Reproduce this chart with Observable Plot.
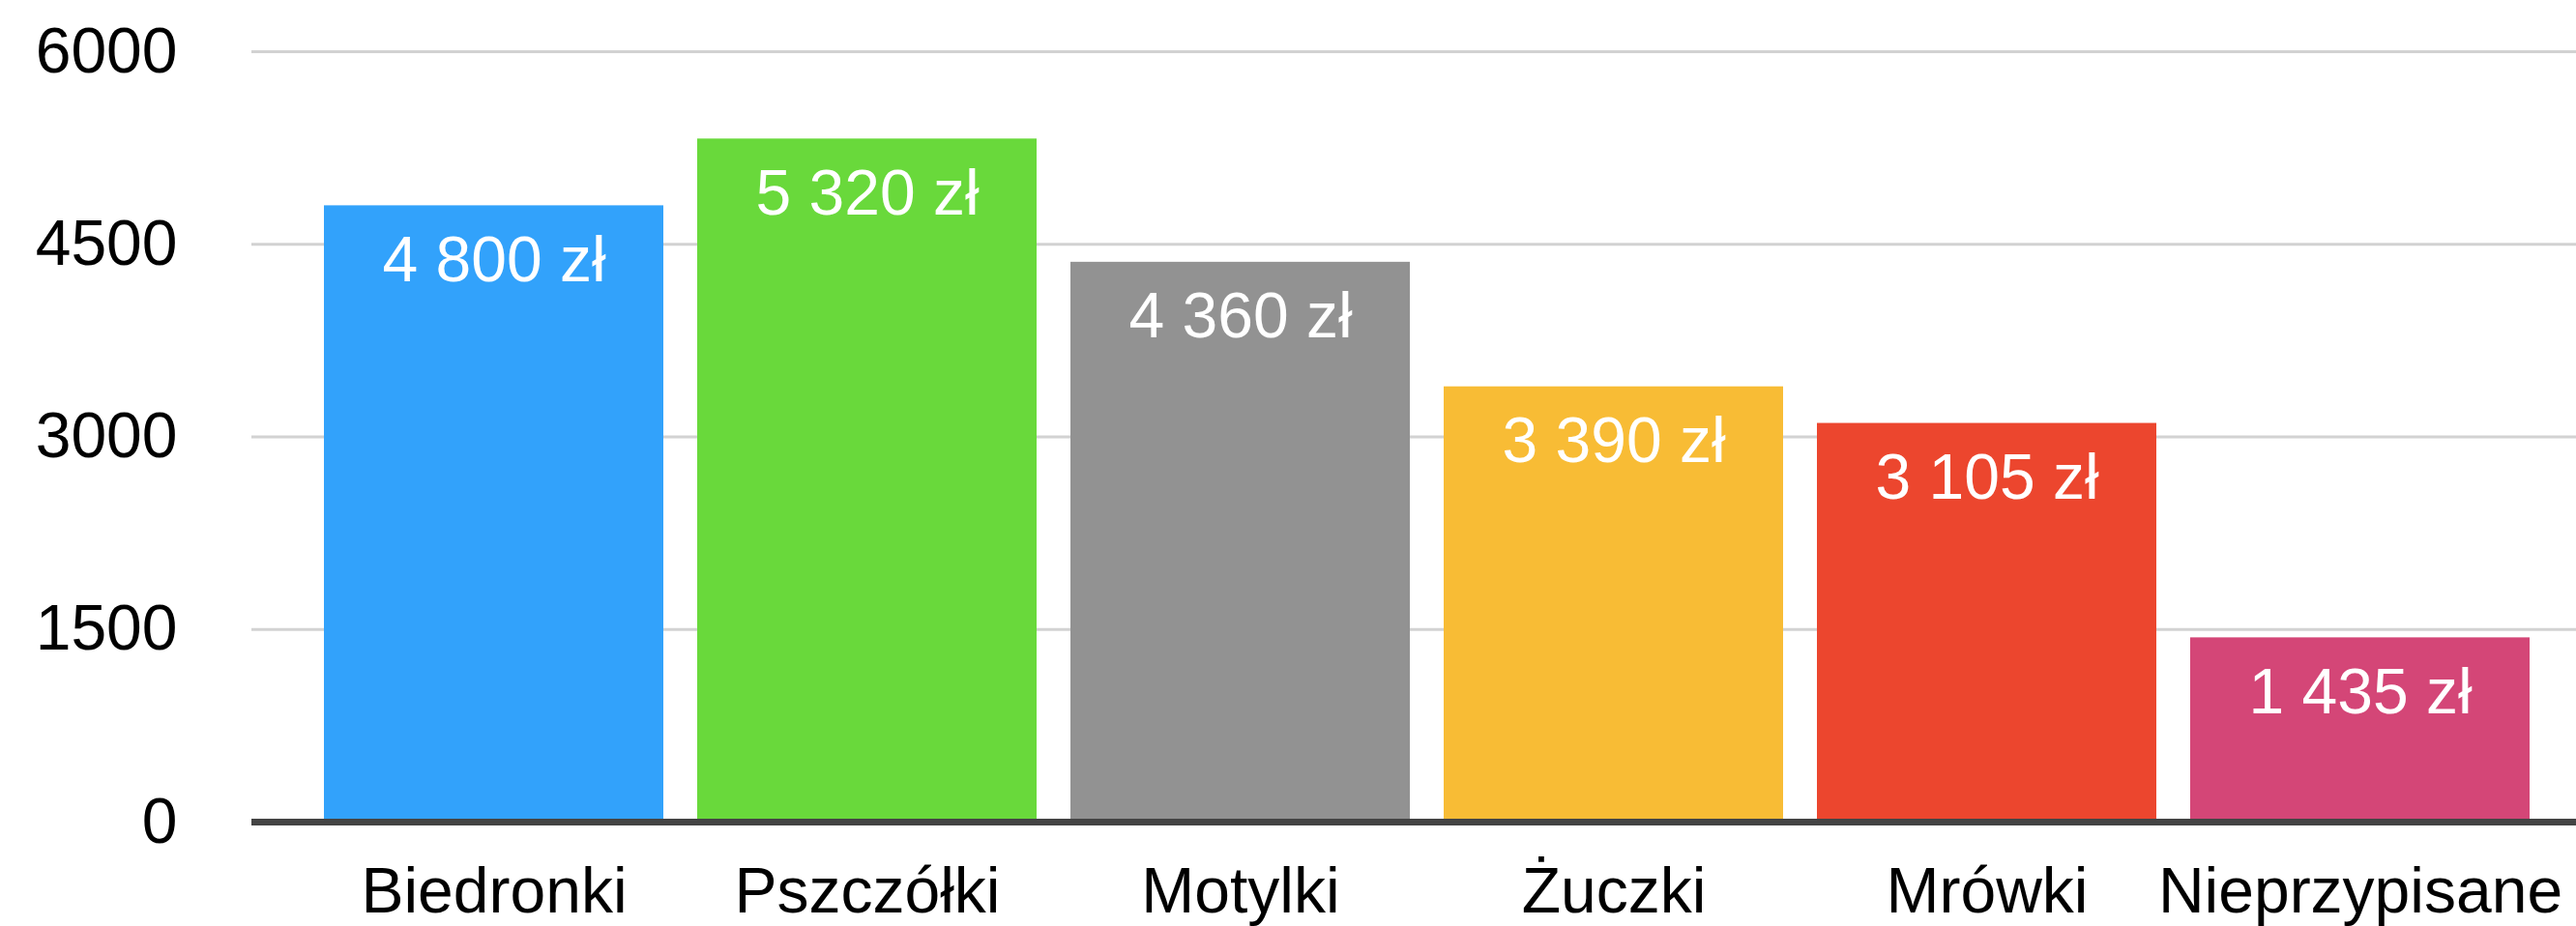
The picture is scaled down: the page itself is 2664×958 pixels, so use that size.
<!DOCTYPE html>
<html>
<head>
<meta charset="utf-8">
<script src="https://cdn.jsdelivr.net/npm/d3@7"></script>
<script src="https://cdn.jsdelivr.net/npm/@observablehq/plot@0.6"></script>
<style>
  html, body { margin: 0; padding: 0; background: #ffffff; }
  #chart svg { display: block; }
</style>
</head>
<body>
<div id="chart"></div>
<script>
const categories = ["Biedronki", "Pszczółki", "Motylki", "Żuczki", "Mrówki", "Nieprzypisane"];
const values = [4800, 5320, 4360, 3390, 3105, 1435];
const colors = ["#32a2fb", "#69d93b", "#929292", "#f8bc35", "#ec462e", "#d44677"];
const yTicks = [0, 1500, 3000, 4500, 6000];

const fmt = d3.formatLocale({decimal: ",", thousands: " ", grouping: [3], currency: ["", " zł"]}).format("$,d");
const data = categories.map((c, i) => ({cat: c, value: values[i], label: fmt(values[i])}));

const chart = Plot.plot({
  width: 2664,
  height: 958,
  marginLeft: 260,
  marginRight: 0,
  marginTop: 53,
  marginBottom: 108,
  style: {fontFamily: "'Liberation Sans', Arial, Helvetica, sans-serif", fontSize: "66px", background: "#ffffff", color: "#000000"},
  x: {domain: categories, paddingInner: 0.09, paddingOuter: 0.151, align: 0.607, label: null},
  y: {domain: [0, 6000], label: null},
  color: {domain: categories, range: colors},
  marks: [
    Plot.ruleY(yTicks.slice(1), {stroke: "#d2d2d2", strokeWidth: 3}),
    Plot.barY(data, {x: "cat", y: "value", fill: "cat"}),
    Plot.ruleY([0], {stroke: "#444444", strokeWidth: 7}),
    Plot.text(data, {x: "cat", y: "value", text: "label", fill: "#ffffff", fontSize: 66, dy: 57}),
    Plot.axisY({ticks: yTicks, tickSize: 0, tickPadding: 77, fontSize: 66, label: null, tickFormat: d => String(d)}),
    Plot.axisX({tickSize: 0, tickPadding: 47, fontSize: 66, label: null})
  ]
});
document.getElementById("chart").appendChild(chart);
</script>
</body>
</html>
